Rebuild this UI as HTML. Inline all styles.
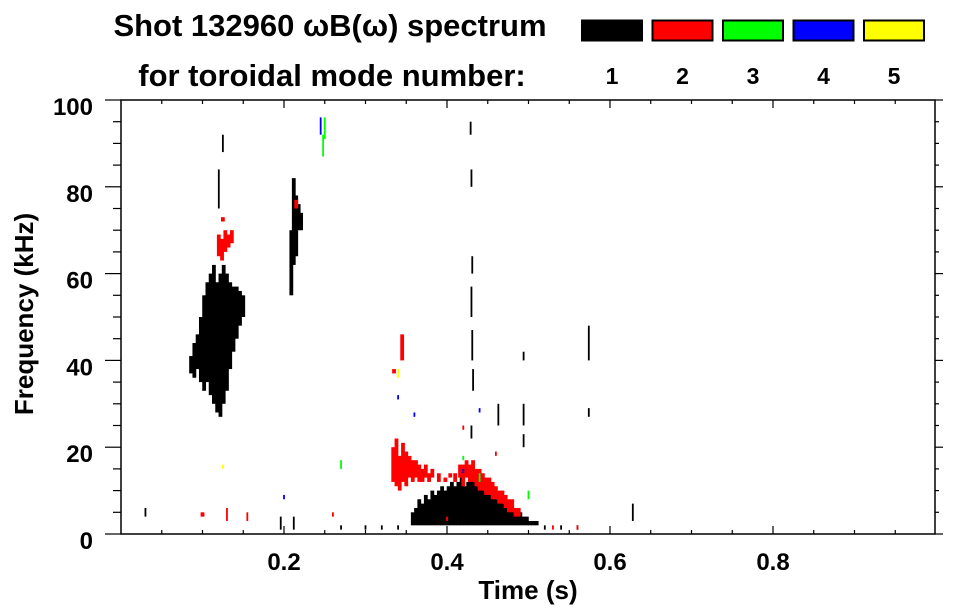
<!DOCTYPE html>
<html><head><meta charset="utf-8"><style>
html,body{margin:0;padding:0;background:#fff;}
svg{display:block;font-family:"Liberation Sans",sans-serif;font-weight:bold;}
</style></head><body>
<svg id="chart" width="963" height="615" viewBox="0 0 963 615" xmlns="http://www.w3.org/2000/svg">
<text x="330" y="36" font-size="31" text-anchor="middle">Shot 132960 ωB(ω) spectrum</text>
<text x="332" y="86" font-size="31" text-anchor="middle">for toroidal mode number:</text>
<g id="legend"></g>
<g id="marks"></g>
<g id="axes"></g>
<text x="528" y="599" font-size="26" text-anchor="middle">Time (s)</text>
<text transform="translate(33,314) rotate(-90)" font-size="26" text-anchor="middle">Frequency (kHz)</text>
</svg>
<script>
// ---- data ----
const modeNumbers = [1, 2, 3, 4, 5];
const modeColors = ['#000000', '#ff0000', '#00ff00', '#0000ff', '#ffff00'];
const xTicks = [0.2, 0.4, 0.6, 0.8];
const yTicks = [0, 20, 40, 60, 80, 100];
// streaks: time (s), low freq (kHz), high freq (kHz)
const m1T  = [0.086,0.090,0.094,0.098,0.102,0.106,0.110,0.114,0.118,0.122,0.126,0.130,0.134,0.138,0.142,0.146,0.150,
              0.209,0.212,0.215,0.218,0.221,
              0.358,0.362,0.366,0.370,0.374,0.378,0.382,0.386,0.390,0.394,0.398,0.402,0.406,0.410,0.414,0.418,0.422,0.426,0.430,0.434,0.438,0.442,0.446,0.450,0.454,0.458,0.462,0.466,0.470,0.474,0.478,0.482,0.486,0.490,0.494,0.498,0.502,0.506,0.510,
              0.12,0.125,0.429,0.430,0.431,0.430,0.431,0.432,0.430,0.463,0.494,0.494,0.494,0.574,0.574,0.628,0.030,0.196,0.212,0.270,0.300,0.320,0.340,0.520,0.540,0.560];
const m1Lo = [37,36,38,35,33,35,32,30,28,27,30,33,38,42,45,48,50,
              55,62,64,70,70,
              2,2,2,2,2,2,2,2,2,2,2,2,2,2,2,2,2,2,2,2,2,2,2,2,2,2,2,2,2,2,2,2,2,2,2,2,2,2,2,
              75,88,92,80,60,50,40,33,22,25,25,20,40,40,27,3,4,1,1,1,1,1,1,1,1,1];
const m1Hi = [41,44,46,50,55,58,60,62,58,60,62,60,58,57,57,56,55,
              70,82,78,76,74,
              5,6,8,7,9,8,10,9,10,11,10,11,12,11,12,13,11,12,13,12,11,12,10,11,9,10,8,8,7,7,6,6,5,5,4,4,3,3,3,
              84,92,95,84,64,57,47,38,25,30,30,23,42,48,29,7,6,4,4,2,2,2,2,2,2,2];
const m1SpeckStart = 61;
const m2T  = [0.120,0.124,0.128,0.132,0.136,
              0.334,0.338,0.342,0.346,0.350,0.354,0.358,0.362,0.366,0.370,0.374,0.378,0.382,0.390,0.398,0.404,0.410,0.416,0.420,0.424,0.428,0.432,0.436,0.440,0.444,0.448,0.452,0.456,0.460,0.464,0.468,0.472,0.476,0.480,0.484,0.488,
              0.125,0.215,0.345,0.335,0.10,0.13,0.155,0.26,0.40,0.53,0.56,0.42,0.46];
const m2Lo = [64,63,65,66,67,
              12,11,10,12,11,13,12,13,12,12,13,12,13,12,12,13,12,13,11,13,12,12,11,10,10,9,9,8,8,7,7,6,5,5,4,4,
              72,75,40,37,4,3,3,4,3,1,1,24,18];
const m2Hi = [69,68,70,69,70,
              20,22,18,21,19,18,17,17,16,15,16,14,15,14,13,14,14,16,16,17,16,17,15,15,14,13,13,12,11,10,10,9,8,8,6,6,
              73,77,46,38,5,6,5,5,4,2,2,25,19];
const m2SpeckStart = 46;
const m3T  = [0.248,0.250,0.270,0.420,0.440,0.500];
const m3Lo = [87,91,15,17,12,8];
const m3Hi = [92,96,17,18,14,10];
const m4T  = [0.245,0.340,0.360,0.200,0.440,0.420];
const m4Lo = [92,31,27,8,28,14];
const m4Hi = [96,32,28,9,29,15];
const m5T  = [0.125,0.340];
const m5Lo = [15,36];
const m5Hi = [16,38];

// ---- scales ----
const X0 = 121, X1 = 935, Y0 = 534, Y1 = 100;
const T_MIN = 0, T_MAX = (X1 - X0) / 815;
const xs = t => X0 + (t - T_MIN) / (T_MAX - T_MIN) * (X1 - X0);
const ys = f => Y0 - f / 100 * (Y0 - Y1);
const NS = 'http://www.w3.org/2000/svg';
function mk(tag, parent, attrs) {
  const e = document.createElementNS(NS, tag);
  for (const k in attrs) e.setAttribute(k, attrs[k]);
  parent.appendChild(e);
  return e;
}

// legend
const lg = document.getElementById('legend');
modeNumbers.forEach((n, i) => {
  const x = 582 + i * 70.5;
  const r = mk('rect', lg, {x: x, y: 20.5, width: 60, height: 20, fill: modeColors[i], stroke: '#000', 'stroke-width': 2});
  
  
  const t = mk('text', lg, {x: x + 30, y: 84, 'font-size': 23, 'text-anchor': 'middle'});
  t.textContent = n;
  
  
});

// marks
const mg = document.getElementById('marks');
const series = [[m1T, m1Lo, m1Hi, m1SpeckStart], [m2T, m2Lo, m2Hi, m2SpeckStart], [m3T, m3Lo, m3Hi, 0], [m4T, m4Lo, m4Hi, 0], [m5T, m5Lo, m5Hi, 0]];
series.forEach((s, si) => {
  const [T, L, H, sp] = s;
  T.forEach((t, i) => {
    const w = i >= sp ? 1.8 : 3.8;
    const y = ys(H[i]), h = Math.max(1.5, ys(L[i]) - ys(H[i]));
    const r = mk('rect', mg, {x: xs(t) - w / 2, y: y, width: w, height: h, fill: modeColors[si]});
    
    
  });
});

// axes
const ax = document.getElementById('axes');
const frame = mk('rect', ax, {x: X0, y: Y1, width: X1 - X0, height: Y0 - Y1, fill: 'none', stroke: '#000', 'stroke-width': 1.5});


for (let t = 0.05; t < T_MAX; t += 0.05) {
  const major = Math.abs(t / 0.2 - Math.round(t / 0.2)) < 1e-6;
  const len = major ? 8 : 4, x = xs(t);
  const a = mk('line', ax, {x1: x, x2: x, y1: Y0, y2: Y0 - len, stroke: '#000', 'stroke-width': 1.2});
  
  
  const b = mk('line', ax, {x1: x, x2: x, y1: Y1, y2: Y1 + len, stroke: '#000', 'stroke-width': 1.2});
  
  
}
xTicks.forEach(v => {
  const t = mk('text', ax, {x: xs(v), y: 570, 'font-size': 24, 'text-anchor': 'middle'});
  t.textContent = v.toFixed(1);
  
  
});
for (let f = 0; f <= 100; f += 5) {
  const major = f % 20 === 0;
  const len = major ? 16 : 8, y = ys(f);
  const a = mk('line', ax, {x1: X0, x2: X0 - len, y1: y, y2: y, stroke: '#000', 'stroke-width': 1.2});
  
  
  const b = mk('line', ax, {x1: X1, x2: X1 + len / 2, y1: y, y2: y, stroke: '#000', 'stroke-width': 1.2});
  
  
}
yTicks.forEach(v => {
  const t = mk('text', ax, {x: 93, y: ys(v) + 15, 'font-size': 24, 'text-anchor': 'end'});
  t.textContent = v;
  
  
});
</script>
</body></html>
